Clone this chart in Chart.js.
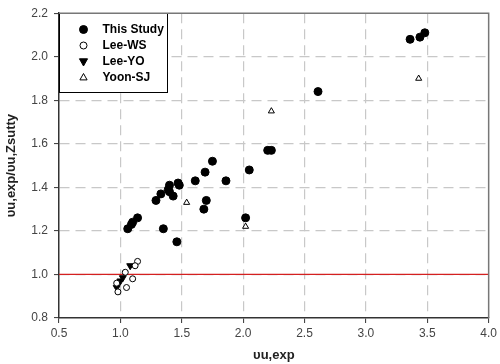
<!DOCTYPE html>
<html>
<head>
<meta charset="utf-8">
<script src="https://cdn.jsdelivr.net/npm/chart.js@4.4.1/dist/chart.umd.min.js"></script>
<style>
  html, body { margin: 0; padding: 0; background: #fff; }
</style>
</head>
<body>
<canvas id="chart" width="500" height="364"></canvas>
<script>
// Data
const thisStudyX = [1.06, 1.09, 1.10, 1.14, 1.35, 1.46, 1.29, 1.33, 1.39, 1.40, 1.43, 1.47, 1.48, 1.40, 1.61, 1.69, 1.75, 1.86, 1.68, 1.70, 2.02, 2.05, 2.20, 2.23, 2.61, 3.36, 3.44, 3.48];
const thisStudyY = [1.21, 1.23, 1.24, 1.26, 1.21, 1.15, 1.34, 1.37, 1.39, 1.41, 1.36, 1.42, 1.41, 1.38, 1.43, 1.47, 1.52, 1.43, 1.30, 1.34, 1.26, 1.48, 1.57, 1.57, 1.84, 2.08, 2.09, 2.11];

const leeWSX = [1.14, 1.12, 1.04, 1.10, 0.97, 1.05, 0.98];
const leeWSY = [1.06, 1.04, 1.01, 0.98, 0.96, 0.94, 0.92];

const leeYOX = [1.08, 1.02, 1.00, 0.97];
const leeYOY = [1.04, 0.985, 0.97, 0.94];

const yoonSJX = [1.54, 2.02, 2.23, 3.43];
const yoonSJY = [1.33, 1.22, 1.75, 1.90];

const refLineX = [0.5, 4.0];
const refLineY = [1.0, 1.0];

const xTicks = [0.5, 1.0, 1.5, 2.0, 2.5, 3.0, 3.5, 4.0];
const yTicks = [0.8, 1.0, 1.2, 1.4, 1.6, 1.8, 2.0, 2.2];

function pairs(xs, ys) {
  return xs.map((x, i) => ({ x: x, y: ys[i] }));
}

// legend drawn inside the plot, top-left
const legendBox = {
  id: "legendBox",
  afterDatasetsDraw(chart) {
    const ctx = chart.ctx;
    const a = chart.chartArea;
    const x0 = Math.round(a.left) + 0.5;
    const y0 = Math.round(a.top) + 0.5;
    ctx.save();
    ctx.fillStyle = "#fff";
    ctx.fillRect(x0, y0, 108, 79);
    ctx.strokeStyle = "#000";
    ctx.lineWidth = 1;
    ctx.strokeRect(x0, y0, 108, 79);

    const items = chart.data.datasets.filter((d) => d.showInLegend);
    items.forEach((ds, i) => {
      const sx = x0 + 24;
      const sy = y0 + 16 + i * 16;
      ctx.fillStyle = ds.backgroundColor;
      ctx.strokeStyle = ds.borderColor;
      ctx.lineWidth = 1;
      ctx.beginPath();
      if (ds.pointStyle === "circle") {
        ctx.arc(sx, sy, ds.legendRadius, 0, Math.PI * 2);
      } else {
        const r = ds.legendRadius;
        const dir = ds.rotation === 180 ? -1 : 1;
        ctx.moveTo(sx, sy - dir * r);
        ctx.lineTo(sx + r * 0.9, sy + dir * r * 0.6);
        ctx.lineTo(sx - r * 0.9, sy + dir * r * 0.6);
        ctx.closePath();
      }
      ctx.fill();
      ctx.stroke();

      ctx.fillStyle = "#000";
      ctx.font = "bold 12px 'Liberation Sans', Arial, sans-serif";
      ctx.textBaseline = "middle";
      ctx.fillText(ds.label, x0 + 43, sy);
    });

    // top and right frame
    ctx.strokeStyle = "#777";
    ctx.lineWidth = 1.5;
    ctx.beginPath();
    ctx.moveTo(a.left, a.top);
    ctx.lineTo(a.right, a.top);
    ctx.lineTo(a.right, a.bottom);
    ctx.stroke();
    ctx.restore();
  }
};

const edgeColor = (vals) => (c) => {
  const v = c.tick ? c.tick.value : null;
  if (v === vals[0] || v === vals[vals.length - 1]) return "rgba(0,0,0,0)";
  return "#c8c8c8";
};

new Chart(document.getElementById("chart"), {
  type: "scatter",
  data: {
    datasets: [
      {
        label: "This Study",
        data: pairs(thisStudyX, thisStudyY),
        pointStyle: "circle",
        pointRadius: 4,
        backgroundColor: "#000",
        borderColor: "#000",
        borderWidth: 1,
        showInLegend: true,
        legendRadius: 4
      },
      {
        label: "Lee-WS",
        data: pairs(leeWSX, leeWSY),
        pointStyle: "circle",
        pointRadius: 3,
        backgroundColor: "#fff",
        borderColor: "#000",
        borderWidth: 1,
        showInLegend: true,
        legendRadius: 3.5
      },
      {
        label: "Lee-YO",
        data: pairs(leeYOX, leeYOY),
        pointStyle: "triangle",
        rotation: 180,
        pointRadius: 4,
        backgroundColor: "#000",
        borderColor: "#000",
        borderWidth: 1,
        showInLegend: true,
        legendRadius: 4.5
      },
      {
        label: "Yoon-SJ",
        data: pairs(yoonSJX, yoonSJY),
        pointStyle: "triangle",
        pointRadius: 3.5,
        backgroundColor: "#fff",
        borderColor: "#000",
        borderWidth: 1,
        showInLegend: true,
        legendRadius: 4
      },
      {
        type: "line",
        label: "ref",
        data: pairs(refLineX, refLineY),
        borderColor: "#d42020",
        borderWidth: 1.2,
        pointRadius: 0,
        fill: false
      }
    ]
  },
  options: {
    responsive: false,
    animation: false,
    layout: { padding: { top: 7, right: 10, left: 0, bottom: 0 } },
    plugins: {
      legend: { display: false },
      tooltip: { enabled: false }
    },
    scales: {
      x: {
        type: "linear",
        min: 0.5,
        max: 4.0,
        afterBuildTicks: (s) => { s.ticks = xTicks.map((v) => ({ value: v })); },
        afterFit: (s) => { s.height = 46; },
        ticks: {
          color: "#444",
          font: { family: "'Liberation Sans', Arial, sans-serif", size: 12 },
          padding: 3,
          callback: (v) => v.toFixed(1)
        },
        grid: {
          color: edgeColor(xTicks),
          lineWidth: 1.2,
          tickColor: "#333",
          tickLength: 5,
          tickWidth: 1
        },
        border: { display: true, color: "#333", width: 1.5, dash: [10, 6] },
        title: {
          display: true,
          text: "υu,exp",
          color: "#222",
          font: { family: "'Liberation Sans', Arial, sans-serif", size: 13, weight: "bold" },
          padding: { top: 0, bottom: 1 }
        }
      },
      y: {
        type: "linear",
        min: 0.8,
        max: 2.2,
        afterBuildTicks: (s) => { s.ticks = yTicks.map((v) => ({ value: v })); },
        afterFit: (s) => { s.width = 59; },
        ticks: {
          color: "#444",
          font: { family: "'Liberation Sans', Arial, sans-serif", size: 12 },
          padding: 6,
          callback: (v) => v.toFixed(1)
        },
        grid: {
          color: edgeColor(yTicks),
          lineWidth: 1.2,
          tickColor: "#333",
          tickLength: 5,
          tickWidth: 1
        },
        border: { display: true, color: "#333", width: 1.5, dash: [10, 6] },
        title: {
          display: true,
          text: "υu,exp/υu,Zsutty",
          color: "#222",
          font: { family: "'Liberation Sans', Arial, sans-serif", size: 13, weight: "bold" },
          padding: { top: 4, bottom: 0 }
        }
      }
    }
  },
  plugins: [legendBox]
});
</script>
</body>
</html>
